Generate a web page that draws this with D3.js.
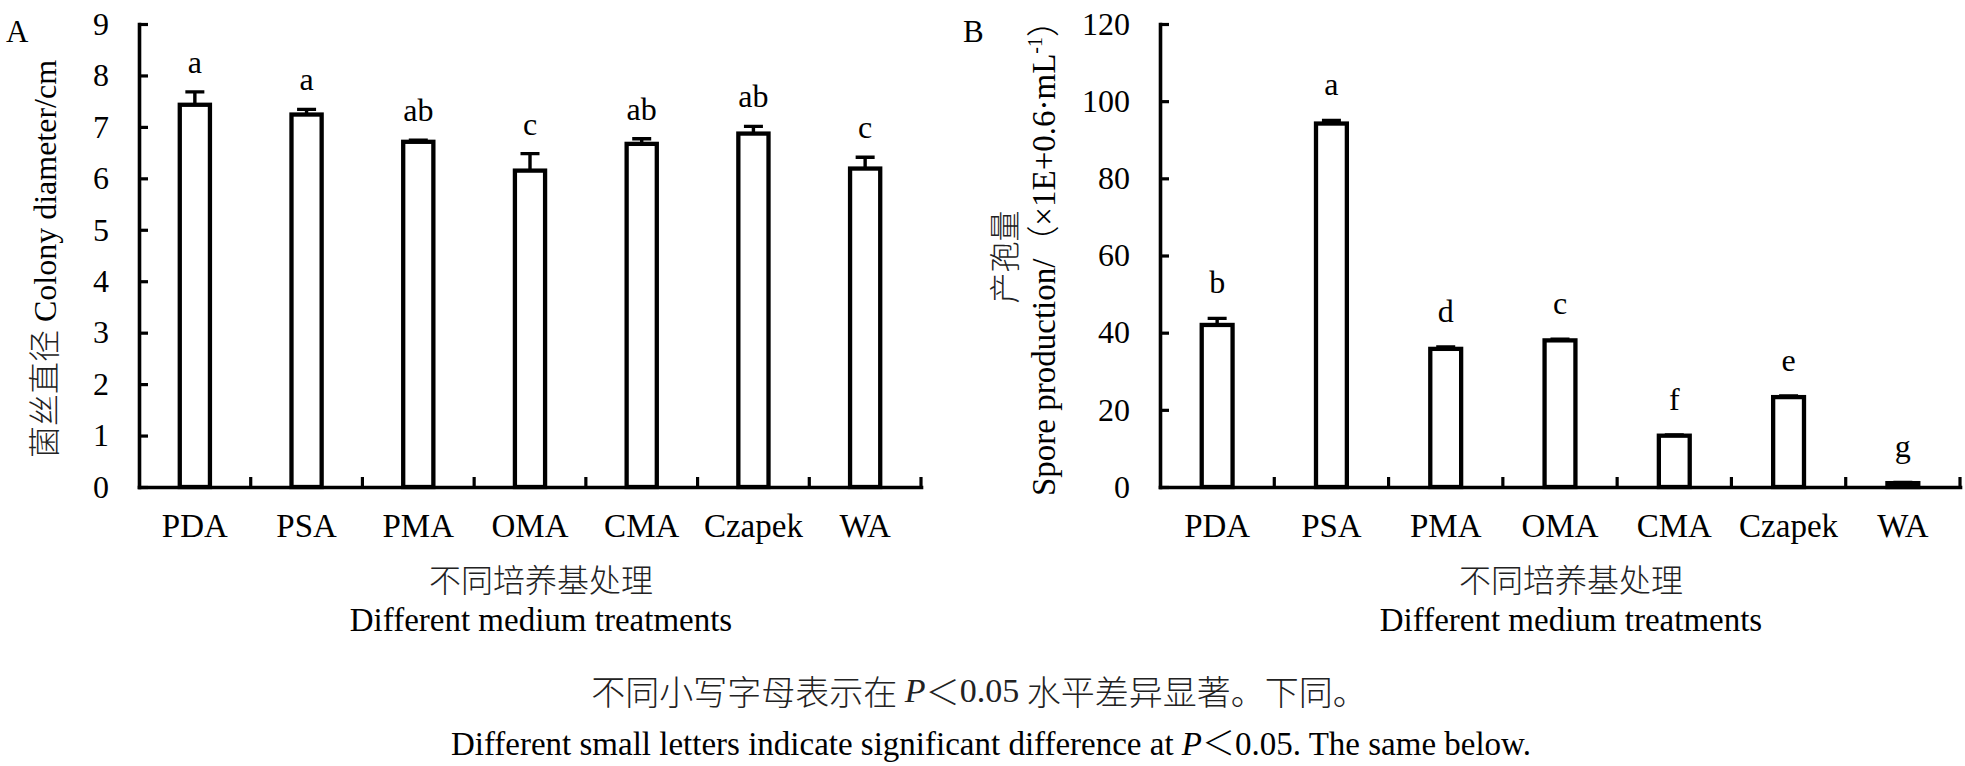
<!DOCTYPE html>
<html>
<head>
<meta charset="utf-8">
<script src="https://cdn.jsdelivr.net/npm/d3@7/dist/d3.min.js"></script>
<style>
  body { margin: 0; background: #fff; }
  svg { display: block; }
</style>
</head>
<body>
<svg id="chart" width="1965" height="766"></svg>
<script>
// data
var categories = ["PDA", "PSA", "PMA", "OMA", "CMA", "Czapek", "WA"];

var diameter = [7.43, 7.24, 6.71, 6.15, 6.67, 6.87, 6.19];
var diameterErr = [0.25, 0.10, 0.03, 0.33, 0.10, 0.14, 0.22];
var diameterLetters = ["a", "a", "ab", "c", "ab", "ab", "c"];
var diameterTicks = [0, 1, 2, 3, 4, 5, 6, 7, 8, 9];

var spores = [42.0, 94.2, 35.8, 38.0, 13.3, 23.3, 1.0];
var sporesErr = [1.7, 0.8, 0.5, 0.3, 0.2, 0.3, 0.2];
var sporeLetters = ["b", "a", "d", "c", "f", "e", "g"];
var sporeTicks = [0, 20, 40, 60, 80, 100, 120];

var serif = '"Liberation Serif", "Times New Roman", serif';
var cjk = '"Noto Sans CJK SC", sans-serif';

var svg = d3.select("#chart");

function panel(opt) {
    var x = d3.scaleBand().domain(categories).range([opt.x0, opt.x1]).padding(0);
    var y = d3.scaleLinear().domain([0, opt.max]).range([487, 24]);
    var g = svg.append("g");

    // y axis, ticks pointing inward
    var yAxis = g.append("g")
        .attr("transform", "translate(" + opt.x0 + ",0)")
        .call(d3.axisLeft(y).tickValues(opt.ticks).tickSizeInner(-9).tickSizeOuter(0).tickPadding(30));
    yAxis.select(".domain").attr("stroke-width", 3.6).attr("stroke-linecap", "square");
    yAxis.selectAll(".tick line").attr("stroke-width", 3.2);
    yAxis.selectAll(".tick text")
        .attr("font-family", serif).attr("font-size", 32).attr("fill", "#000");

    // x axis: labels under the bars, ticks between categories
    var xAxis = g.append("g")
        .attr("transform", "translate(0,487)")
        .call(d3.axisBottom(x).tickSize(0).tickPadding(27));
    xAxis.select(".domain").attr("stroke-width", 3.6).attr("stroke-linecap", "square");
    xAxis.selectAll(".tick text")
        .attr("font-family", serif).attr("font-size", 33).attr("fill", "#000");

    g.selectAll(".sep").data(categories).enter().append("line")
        .attr("class", "sep")
        .attr("x1", function(d){ return x(d) + x.bandwidth(); })
        .attr("x2", function(d){ return x(d) + x.bandwidth(); })
        .attr("y1", 487).attr("y2", 477)
        .attr("stroke", "#000").attr("stroke-width", 3.2);

    var bw = x.bandwidth() * 0.27;
    var rows = categories.map(function(c, i){
        return { c: c, v: opt.values[i], e: opt.errors[i], l: opt.letters[i] };
    });

    // error bars
    g.selectAll(".err").data(rows).enter().append("path")
        .attr("class", "err")
        .attr("d", function(d){
            var cx = x(d.c) + x.bandwidth() / 2;
            return "M" + cx + "," + y(d.v) + "V" + y(d.v + d.e)
                + "M" + (cx - 9.5) + "," + y(d.v + d.e) + "H" + (cx + 9.5);
        })
        .attr("fill", "none").attr("stroke", "#000").attr("stroke-width", 3.4);

    g.selectAll(".bar").data(rows).enter().append("rect")
        .attr("class", "bar")
        .attr("x", function(d){ return x(d.c) + (x.bandwidth() - bw) / 2; })
        .attr("width", bw)
        .attr("y", function(d){ return y(d.v); })
        .attr("height", function(d){ return y(0) - y(d.v); })
        .attr("fill", "#fff").attr("stroke", "#000").attr("stroke-width", 4.3);

    g.selectAll(".sig").data(rows).enter().append("text")
        .attr("class", "sig")
        .attr("x", function(d){ return x(d.c) + x.bandwidth() / 2; })
        .attr("y", function(d){ return y(d.v + d.e) - opt.gap; })
        .attr("text-anchor", "middle")
        .attr("font-family", serif).attr("font-size", 32)
        .text(function(d){ return d.l; });

    // panel letter
    g.append("text")
        .attr("x", opt.tagX).attr("y", 42)
        .attr("font-family", serif).attr("font-size", 31)
        .text(opt.tag);

    // x title
    var cx = (opt.x0 + opt.x1) / 2 + 11;
    g.append("text")
        .attr("x", cx).attr("y", 578)
        .attr("dominant-baseline", "central")
        .attr("text-anchor", "middle")
        .attr("font-family", cjk).attr("font-weight", 300).attr("font-size", 32)
        .attr("fill", "#222")
        .text("不同培养基处理");
    g.append("text")
        .attr("x", cx).attr("y", 631)
        .attr("text-anchor", "middle")
        .attr("font-family", serif).attr("font-size", 33)
        .text("Different medium treatments");

    return g;
}

panel({ x0: 139, x1: 921, max: 9, ticks: diameterTicks, values: diameter,
        errors: diameterErr, letters: diameterLetters, tag: "A", tagX: 6, gap: 19 });
panel({ x0: 1160, x1: 1960, max: 120, ticks: sporeTicks, values: spores,
        errors: sporesErr, letters: sporeLetters, tag: "B", tagX: 963, gap: 25 });

// y titles
var ya = svg.append("text")
    .attr("transform", "translate(56,259) rotate(-90)")
    .attr("text-anchor", "middle")
    .attr("font-size", 32);
ya.append("tspan").attr("font-family", cjk).attr("font-weight", 300).attr("fill", "#222").text("菌丝直径");
ya.append("tspan").attr("font-family", serif).text(" Colony diameter/cm");

svg.append("text")
    .attr("transform", "translate(1002,257) rotate(-90)")
    .attr("text-anchor", "middle")
    .attr("dominant-baseline", "central")
    .attr("font-family", cjk).attr("font-weight", 300).attr("font-size", 31)
    .attr("fill", "#222")
    .text("产孢量");

var yb = svg.append("text")
    .attr("transform", "translate(1055,250) rotate(-90)")
    .attr("text-anchor", "middle")
    .attr("font-family", serif).attr("font-size", 33);
yb.append("tspan").text("Spore production/");
yb.append("tspan").attr("font-family", cjk).attr("font-weight", 300).text("（");
yb.append("tspan").text("×1E+0.6·mL");
yb.append("tspan").attr("font-size", 20).attr("dy", -13).text("-1");
yb.append("tspan").attr("dy", 13).attr("font-family", cjk).attr("font-weight", 300).text("）");

// notes under the figure
var n1 = svg.append("text")
    .attr("x", 979).attr("y", 690)
    .attr("dominant-baseline", "central")
    .attr("text-anchor", "middle")
    .attr("font-size", 34).attr("fill", "#222");
n1.append("tspan").attr("font-family", cjk).attr("font-weight", 300).text("不同小写字母表示在 ");
n1.append("tspan").attr("font-family", serif).attr("font-style", "italic").text("P");
n1.append("tspan").attr("font-family", cjk).attr("font-weight", 300).text("＜");
n1.append("tspan").attr("font-family", serif).text("0.05");
n1.append("tspan").attr("font-family", cjk).attr("font-weight", 300).text(" 水平差异显著。下同。");

var n2 = svg.append("text")
    .attr("x", 991).attr("y", 755)
    .attr("text-anchor", "middle")
    .attr("font-family", serif).attr("font-size", 33);
n2.append("tspan").text("Different small letters indicate significant difference at ");
n2.append("tspan").attr("font-style", "italic").text("P");
n2.append("tspan").attr("font-family", cjk).attr("font-weight", 300).text("＜");
n2.append("tspan").text("0.05. The same below.");
</script>
</body>
</html>
